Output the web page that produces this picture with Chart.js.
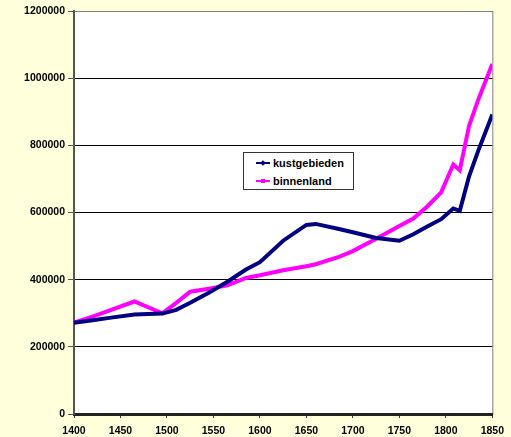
<!DOCTYPE html>
<html>
<head>
<meta charset="utf-8">
<script src="https://cdn.jsdelivr.net/npm/chart.js@4.4.1/dist/chart.umd.min.js"></script>
<style>
  html, body { margin: 0; padding: 0; background: #FFFFDC; }
  #wrap { position: relative; width: 511px; height: 437px; }
  #legend {
    position: absolute; left: 243px; top: 152px; width: 109px; height: 36px;
    background: #fff; border: 1px solid #333;
    font: bold 11px "Liberation Sans", Arial, sans-serif; color: #000;
  }
  .row { position: absolute; left: 12px; height: 14px; line-height: 14px; white-space: nowrap; }
  .sw { display: inline-block; position: relative; width: 14px; height: 14px; vertical-align: top; margin-right: 3px; }
  .sw .ln { position: absolute; left: 0; top: 6px; width: 14px; height: 2px; }
  .sw .mk { position: absolute; left: 5px; top: 5px; width: 4px; height: 4px; }
</style>
</head>
<body>
<div id="wrap">
  <canvas id="c" width="511" height="437"></canvas>
  <div id="legend">
    <div class="row" style="top:3px"><span class="sw"><span class="ln" style="background:#000080"></span><span class="mk" style="background:#000080;transform:rotate(45deg)"></span></span>kustgebieden</div>
    <div class="row" style="top:21px"><span class="sw"><span class="ln" style="background:#FF00FF"></span><span class="mk" style="background:#FF00FF"></span></span>binnenland</div>
  </div>
</div>
<script>
"use strict";

////////  DATA ///////////
const years = [1400, 1420, 1440, 1465, 1495, 1510, 1525, 1545, 1565, 1585, 1600, 1625, 1650,
  1660, 1685, 1700, 1725, 1750, 1765, 1780, 1795, 1808, 1815, 1825, 1835, 1850];
const kustgebieden = [272000, 279000, 287000, 296000, 299000, 310000, 331000, 361000, 394000, 430000,
  452000, 516000, 563000, 566000, 551000, 541000, 524000, 516000, 535000, 558000, 580000, 612000,
  605000, 708000, 785000, 892000];
const binnenland = [272000, 290000, 310000, 335000, 300000, 331000, 364000, 373000, 383000, 405000,
  413000, 428000, 440000, 446000, 468000, 485000, 522000, 560000, 582000, 618000, 660000, 743000,
  726000, 858000, 937000, 1042000];
const x_ticks = [1400, 1450, 1500, 1550, 1600, 1650, 1700, 1750, 1800, 1850];
const y_max = 1200000;

function to_points(vals) {
  return years.map((yr, i) => ({x: yr, y: vals[i]}));
}

// white plot area + grey frame
const frame_plugin = {
  id: 'frame',
  beforeDraw(chart) {
    const a = chart.chartArea;
    const ctx = chart.ctx;
    ctx.save();
    ctx.fillStyle = '#fff';
    ctx.fillRect(a.left, a.top, a.right - a.left, a.bottom - a.top);
    ctx.strokeStyle = '#808080';
    ctx.lineWidth = 1;
    ctx.strokeRect(a.left + 0.5, a.top + 0.5, a.right - a.left, a.bottom - a.top);
    ctx.restore();
  }
};

const font = {family: '"Liberation Sans", Arial, sans-serif', size: 10.5, weight: 'bold'};

const chart = new Chart(document.getElementById('c').getContext('2d'), {
  type: 'line',
  data: {
    datasets: [
      {label: 'kustgebieden', data: to_points(kustgebieden), borderColor: '#000080', borderWidth: 4,
        pointRadius: 0, tension: 0, fill: false},
      {label: 'binnenland', data: to_points(binnenland), borderColor: '#FF00FF', borderWidth: 4,
        pointRadius: 0, tension: 0, fill: false}
    ]
  },
  options: {
    responsive: false,
    animation: false,
    layout: {padding: {top: 11, right: 18, left: 0, bottom: 0}},
    plugins: {legend: {display: false}, tooltip: {enabled: false}},
    scales: {
      x: {
        type: 'linear',
        min: 1400, max: 1850,
        afterBuildTicks(scale) { scale.ticks = x_ticks.map(v => ({value: v})); },
        ticks: {font: font, color: '#000', maxRotation: 0, padding: 7, callback: v => String(v)},
        grid: {drawOnChartArea: false, tickLength: 4, color: '#333', lineWidth: 1},
        border: {display: true, color: '#222', width: 3, dash: [4, 1]},
        afterFit(scale) { scale.height = 23; }
      },
      y: {
        min: 0, max: y_max,
        ticks: {stepSize: 200000, font: font, color: '#000', padding: 3, callback: v => String(v)},
        grid: {
          color: ctx => ctx.tick && ctx.tick.value === y_max ? '#808080' : '#000',
          tickColor: '#555', tickLength: 6, lineWidth: 1
        },
        border: {display: true, color: '#555', width: 2},
        afterFit(scale) { scale.width = 74; }
      }
    }
  },
  plugins: [frame_plugin]
});
</script>
</body>
</html>
